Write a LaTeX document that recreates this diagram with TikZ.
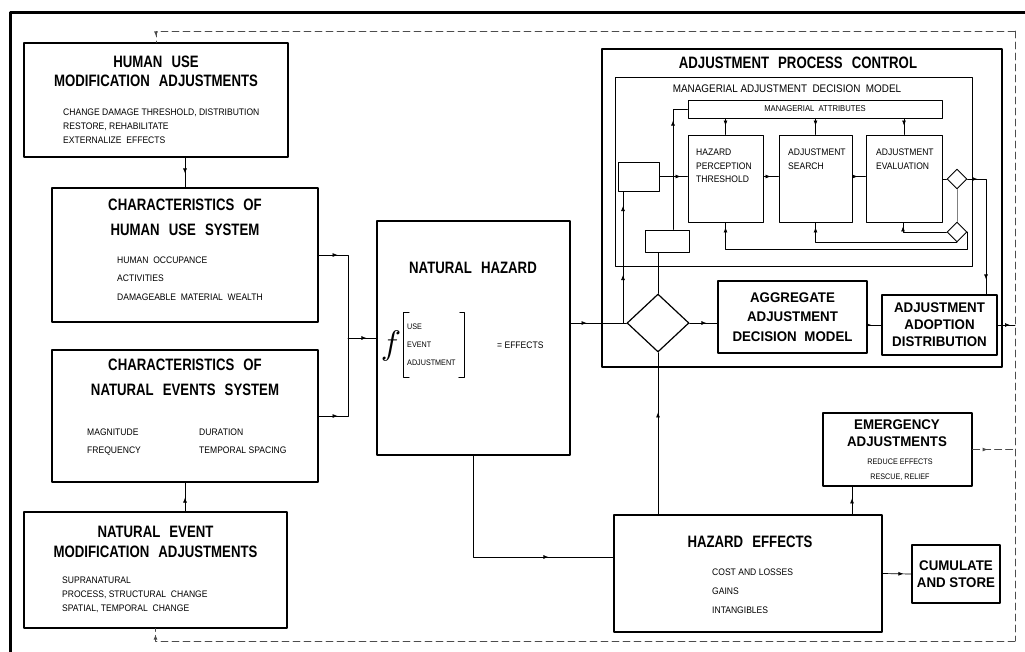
\documentclass[tikz,border=0pt]{standalone}
\usepackage{fontspec}
\usepackage{graphicx}
\setmainfont{Liberation Sans}
\newfontfamily\ttlfont{Liberation Sans}[FakeStretch=0.8]
\newfontfamily\boxfont{Liberation Sans}[FakeStretch=0.95]
\newfontfamily\subfont{Liberation Sans}[FakeStretch=0.9]
\newcommand\wsp{\hspace{0.55em}}
\usetikzlibrary{shapes.geometric,decorations.markings,arrows.meta}

\begin{document}
\begin{tikzpicture}[x=1pt, y=-1pt, line cap=round, line join=round,
	box/.style={draw, line width=1.2pt, inner sep=0pt},
	ibox/.style={draw, line width=0.9pt, inner sep=0pt},
	ttl/.style={font=\ttlfont\bfseries\fontsize{16.5}{#1}\selectfont, align=center, inner sep=0pt},
	ttl/.default=19.5,
	btl/.style={font=\boxfont\bfseries\fontsize{14}{#1}\selectfont, align=center},
	btl/.default=17,
	sub/.style={font=\subfont\fontsize{9.5}{#1}\selectfont, align=left, inner sep=0pt},
	sub/.default=14,
	link/.style={line width=0.7pt},
	dlink/.style={line width=0.8pt, black!70, dash pattern=on 7pt off 4pt},
	arr/.style={postaction={decorate}, decoration={markings, mark=at position #1 with {\arrow{Latex[length=5pt,width=4pt]}}}},
	arr/.default=0.5,
	arrs/.style 2 args={postaction={decorate}, decoration={markings,
		mark=at position #1 with {\arrow{Latex[length=5pt,width=4pt]}},
		mark=at position #2 with {\arrow{Latex[length=5pt,width=4pt]}}}}]
	\useasboundingbox (0,0) rectangle (1025,651);
	\clip (0,0) rectangle (1025,651);
	\draw[line width=3.5pt] (10.5,12.5) rectangle (1040,670);
	
	\node[box, minimum width=264, minimum height=114] (hmod) at (156,100) {};
	\node[ttl] at (156,71.5) {HUMAN\wsp USE\\MODIFICATION\wsp ADJUSTMENTS};
	\node[sub, anchor=north west] at (63,108.5) {CHANGE DAMAGE THRESHOLD, DISTRIBUTION\\RESTORE, REHABILITATE\\EXTERNALIZE\enspace EFFECTS};
	
	\node[box, minimum width=266, minimum height=134] (hsys) at (185,255) {};
	\node[ttl=25] at (185,217.5) {CHARACTERISTICS\wsp OF\\HUMAN\wsp USE\wsp SYSTEM};
	\node[sub=18.5, anchor=north west] at (117,256.5) {HUMAN\enspace OCCUPANCE\\ACTIVITIES\\DAMAGEABLE\enspace MATERIAL\enspace WEALTH};
	
	\node[box, minimum width=266, minimum height=132] (nsys) at (185,416) {};
	\node[ttl=25] at (185,377.5) {CHARACTERISTICS\wsp OF\\NATURAL\wsp EVENTS\wsp SYSTEM};
	\node[sub=18, anchor=north west] at (87,428.5) {MAGNITUDE\\FREQUENCY};
	\node[sub=18, anchor=north west] at (199,428.5) {DURATION\\TEMPORAL SPACING};
	
	\node[box, minimum width=263, minimum height=116] (nmod) at (155.5,570) {};
	\node[ttl=20] at (155.5,542) {NATURAL\wsp EVENT\\MODIFICATION\wsp ADJUSTMENTS};
	\node[sub, anchor=north west] at (62,576.5) {SUPRANATURAL\\PROCESS, STRUCTURAL\enspace CHANGE\\SPATIAL, TEMPORAL\enspace CHANGE};
	
	\node[box, minimum width=193, minimum height=234] (hazard) at (473.5,338) {};
	\node[ttl] at (473,268) {NATURAL\wsp HAZARD};
	\node[inner sep=0pt] (fsym) at (391,346) {\scalebox{3.4}{$f$}};
	\node[sub=18, anchor=west, font=\subfont\fontsize{8}{18}\selectfont] (fargs) at (407,345) {USE\\EVENT\\ADJUSTMENT};
	\draw[line width=1pt] ([shift={(2,-11)}]fargs.north west) -| ([shift={(-4,11)}]fargs.south west) -- ++(6,0);
	\draw[line width=1pt] ([shift={(4,-11)}]fargs.north east) -| ([shift={(9,11)}]fargs.south east) -- ++(-6,0);
	\node[sub, anchor=west] at (497,345) {= EFFECTS};
	
	\node[box, minimum width=400, minimum height=318] (apc) at (802,208) {};
	\node[ttl] at (798,63) {ADJUSTMENT\wsp PROCESS\wsp CONTROL};
	\node[box, line width=1pt, minimum width=357, minimum height=189] (madm) at (793.5,171.5) {};
	\node[font=\subfont\fontsize{11}{13}\selectfont, inner sep=0pt] at (787,89) {MANAGERIAL ADJUSTMENT\enspace DECISION\enspace MODEL};
	\node[ibox, minimum width=254, minimum height=18, font=\subfont\fontsize{8.5}{10}\selectfont] (attr) at (815,109) {MANAGERIAL\enspace ATTRIBUTES};
	\node[ibox, minimum width=75, minimum height=87] (hpt) at (725.5,178.5) {};
	\node[ibox, minimum width=73, minimum height=87] (search) at (815.5,178.5) {};
	\node[ibox, minimum width=76, minimum height=87] (eval) at (904,178.5) {};
	\node[sub=13.5, anchor=north west] at (696,148.8) {HAZARD\\PERCEPTION\\THRESHOLD};
	\node[sub=13.5, anchor=north west] at (788,148.8) {ADJUSTMENT\\SEARCH};
	\node[sub=13.5, anchor=north west] at (876,148.8) {ADJUSTMENT\\EVALUATION};
	\node[ibox, minimum width=41, minimum height=29] (sm1) at (638.5,176.5) {};
	\node[ibox, minimum width=44, minimum height=22] (sm2) at (667,241) {};
	\node[diamond, draw, line width=1.2pt, minimum width=62, minimum height=58, inner sep=0pt] (bigdia) at (658,323) {};
	\node[diamond, draw, line width=0.9pt, minimum width=20, minimum height=20, inner sep=0pt] (dia1) at (957,179) {};
	\node[diamond, draw, line width=0.9pt, minimum width=20, minimum height=20, inner sep=0pt] (dia2) at (957,232) {};
	\node[box, btl=19.5, minimum width=149, minimum height=72] (aadm) at (792.5,317) {AGGREGATE\\ADJUSTMENT\\DECISION\wsp MODEL};
	\node[box, btl=17, minimum width=115, minimum height=60] (add) at (939.5,325) {ADJUSTMENT\\ADOPTION\\DISTRIBUTION};
	
	\node[box, minimum width=149, minimum height=73] (emerg) at (897.5,449.5) {};
	\node[btl=17, inner sep=0pt] at (897,433.5) {EMERGENCY\\ADJUSTMENTS};
	\node[sub=15, align=center, font=\subfont\fontsize{8}{15}\selectfont] at (900,469.5) {REDUCE EFFECTS\\RESCUE, RELIEF};
	
	\node[box, minimum width=268, minimum height=117] (effects) at (748,573.5) {};
	\node[ttl] at (750,542) {HAZARD\wsp EFFECTS};
	\node[sub=19, anchor=north west] at (712,568.8) {COST AND LOSSES\\GAINS\\INTANGIBLES};
	\node[box, btl=17, minimum width=88, minimum height=58] (store) at (956,574) {CUMULATE\\AND STORE};
	
	\coordinate (ne) at (1015,31);
	\coordinate (se) at (1015,641);
	\draw[dlink] (ne) -- (se);
	\draw[dlink, arr=-6pt] (ne) -| (hmod.north);
	\draw[dlink, arr=-6pt] (se) -| (nmod.south);
	\draw[link, arr=-5pt] (add.east) -- (add.east -| ne);
	\draw[dlink, arr=15pt] (emerg.east) -- (emerg.east -| ne);
	
	\draw[link, arr=-14pt] (hmod.south -| hsys.north) -- (hsys.north);
	\draw[link, arr=-15pt] (nmod.north -| nsys.south) -- (nsys.south);
	\coordinate (j1) at (348,338);
	\draw[link, arr=19pt] (hsys.east) -| (j1);
	\draw[link, arr=19pt] (nsys.east) -| (j1);
	\draw[link, arr=-10pt] (j1) -- (hazard.west);
	\draw[link, arr=16pt] (bigdia.west -| hazard.east) -- (bigdia.west);
	\coordinate (j2) at (623,323);
	\draw[link, arrs={48pt}{117pt}] (j2) -- (j2 |- sm1.south);
	\draw[link] (bigdia.north) -- (bigdia.north |- sm2.south);
	\draw[link, arr=109pt] ([xshift=6pt]sm2.north) |- (attr.west);
	\draw[link, arr=-7pt] (sm1.east) -- (sm1.east -| hpt.west);
	\draw[link, arr=-8pt] (hpt.east |- sm1.east) -- (search.west |- sm1.east);
	\draw[link, arr=-8pt] (search.east |- sm1.east) -- (eval.west |- sm1.east);
	\foreach \b in {hpt,search,eval}
		\draw[link, arr=-9pt] (attr.south -| \b.north) -- (\b.north);
	\draw[link] (eval.east |- dia1.west) -- (dia1.west);
	\draw[link, arrs={10pt}{-15pt}] (dia1.east) -| ([xshift=46.5pt]add.north);
	\draw[link, black!50] (dia1.south) -- (dia2.north);
	\draw[link, arr=-4pt] (dia2.west) -| ([xshift=-1pt]eval.south);
	\draw[link, arr=-5pt] (dia2.south) -| (search.south);
	\draw[link, arr=-5pt] (dia2.east) -- ++(0,17) -| (hpt.south);
	
	\draw[link, arr=-65pt] (hazard.south) |- ([yshift=16.5pt]effects.west);
	\draw[link, arr=102pt] (bigdia.south |- effects.north) -- (bigdia.south);
	\coordinate (e1) at ([xshift=-45.5pt]emerg.south);
	\draw[link, arr=16pt] (e1 |- effects.north) -- (e1);
	\draw[link, arr=-8pt] (effects.east) -- (store.west);
	\draw[link, arr=-11pt] (bigdia.east) -- (bigdia.east -| aadm.west);
	\draw[link, arr=-10pt] (add.west -| aadm.east) -- (add.west);
\end{tikzpicture}
\end{document}
